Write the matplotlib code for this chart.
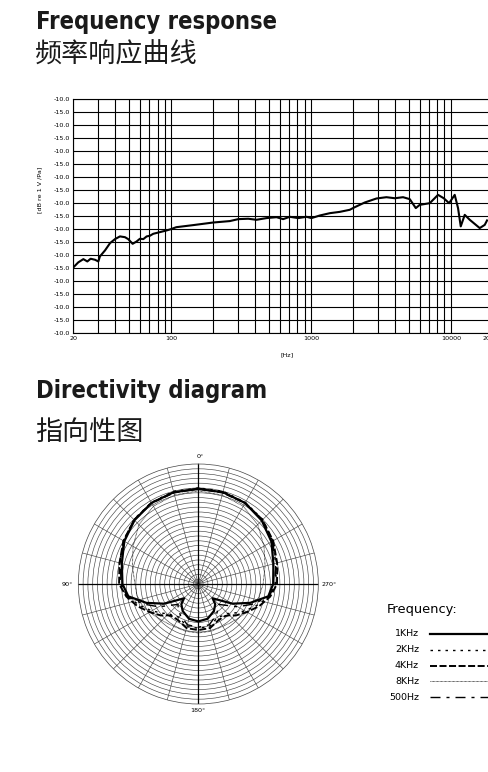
import numpy as np
import matplotlib
matplotlib.use("Agg")
import matplotlib.pyplot as plt
from matplotlib.ticker import FixedLocator, NullFormatter

# Curva de respuesta en frecuencia (nivel en filas de la rejilla, 0 = abajo)
freq_hz = [20, 21.7, 23.6, 25.2, 26.6, 28.6, 30.2, 31, 33.7, 36.6, 39.7, 43.1,
           46.8, 49.4, 53.1, 56.7, 59.9, 63.3, 66.9, 70.6, 74.5, 83.2, 92.9,
           99.8, 109, 144, 200, 263, 302, 356, 408, 481, 567, 632, 706, 810,
           929, 1007, 1156, 1365, 1607, 1893, 2055, 2421, 2937, 3461, 3973,
           4551, 5083, 5612, 5988, 7063, 8093, 8891, 9710, 10650, 11250,
           11760, 12560, 13640, 16080, 17460, 18130]
level = [5.05, 5.44, 5.69, 5.51, 5.72, 5.64, 5.51, 5.9, 6.36, 6.92, 7.23, 7.44,
         7.38, 7.23, 6.87, 7.05, 7.26, 7.23, 7.44, 7.49, 7.64, 7.77, 7.9,
         8.0, 8.15, 8.31, 8.51, 8.62, 8.77, 8.8, 8.72, 8.85, 8.92, 8.77, 8.95,
         8.85, 8.95, 8.85, 9.05, 9.23, 9.33, 9.49, 9.69, 10.05, 10.36, 10.46,
         10.38, 10.46, 10.31, 9.62, 9.87, 10.0, 10.64, 10.38, 10.0, 10.64,
         9.62, 8.21, 9.1, 8.72, 8.08, 8.33, 8.67]
y_labels = ["-10.0" if i % 2 == 0 else "-15.0" for i in range(19)]
x_ticks = [20, 100, 1000, 10000, 20000]
x_tick_labels = ["20", "100", "1000", "10000", "20000"]

# Diagrama polar (grados, dB)
angle_deg = [0, 15, 30, 45, 60, 75, 90, 100, 110, 120, 130, 135, 140, 150, 165, 180,
             195, 210, 220, 225, 230, 240, 250, 260, 270, 285, 300, 315, 330, 345, 360]
sens_1k = [-5.2, -5.2, -5.5, -6.2, -7.2, -8.5, -9.2, -10.2, -13.5, -16.8, -20.0, -20.8,
           -19.5, -18.5, -17.5, -17.2, -17.5, -18.5, -19.5, -20.8, -20.0, -16.8, -13.5,
           -10.2, -9.4, -8.8, -7.4, -6.3, -5.5, -5.2, -5.2]
sens_2k = [-5.0, -5.0, -5.4, -6.0, -7.0, -8.0, -8.8, -10.0, -12.0, -13.8, -15.5, -16.3,
           -16.5, -17.0, -15.8, -15.8, -15.8, -17.0, -16.5, -16.3, -15.5, -13.8, -12.0,
           -10.0, -8.9, -8.1, -7.1, -6.0, -5.4, -5.0, -5.0]
sens_4k = [-5.1, -5.3, -5.5, -6.1, -7.0, -8.0, -8.5, -9.8, -11.5, -13.3, -14.8, -15.8,
           -16.3, -16.4, -15.5, -15.4, -15.5, -16.4, -16.3, -15.8, -14.8, -13.3, -11.5,
           -9.8, -8.6, -8.0, -7.0, -6.1, -5.5, -5.3, -5.1]
sens_8k = [-5.6, -5.8, -6.3, -7.5, -9.3, -10.8, -11.8, -12.0, -12.5, -13.3, -14.0, -14.3,
           -14.5, -14.8, -14.8, -14.8, -14.8, -14.8, -14.5, -14.3, -14.0, -13.3, -12.5,
           -12.0, -11.5, -10.6, -9.2, -7.5, -6.3, -5.8, -5.6]
sens_500 = [-5.2, -5.2, -5.5, -6.2, -7.1, -8.2, -8.9, -10.0, -12.8, -15.5, -18.2, -19.0,
            -18.5, -17.5, -16.2, -16.0, -16.2, -17.5, -18.5, -19.0, -18.2, -15.5, -12.8,
            -10.0, -9.0, -8.3, -7.2, -6.2, -5.5, -5.2, -5.2]
series_names = ["1KHz", "2KHz", "4KHz", "8KHz", "500Hz"]
series_vals = [sens_1k, sens_2k, sens_4k, sens_8k, sens_500]
styles = [
    dict(lw=1.6, ls="-"),
    dict(lw=1.0, ls=(0, (1.8, 3.6))),
    dict(lw=1.4, ls=(0, (3.6, 1.3))),
    dict(lw=0.6, ls=(0, (0.8, 0.8))),
    dict(lw=1.0, ls=(0, (7.2, 4.3, 2.2, 4.3))),
]

W, H = 488, 772
fig = plt.figure(figsize=(W / 100, H / 100), dpi=100)

# capa de fondo en coordenadas de pixel para los textos
ov = fig.add_axes([0, 0, 1, 1], zorder=-1)
ov.set_xlim(0, W)
ov.set_ylim(H, 0)
ov.axis("off")

title_font = dict(family="DejaVu Sans", stretch="condensed", weight="bold", size=17)
cjk_font = dict(family=["Noto Sans CJK SC", "DejaVu Sans"], size=19.5)
ov.text(36, 29, "Frequency response", va="baseline", ha="left", color="#1a1a1a", **title_font)
ov.text(35, 55, "频率响应曲线", va="center", ha="left", color="#1a1a1a", **cjk_font)
ov.text(36, 398, "Directivity diagram", va="baseline", ha="left", color="#1a1a1a", **title_font)
ov.text(35, 432, "指向性图", va="center", ha="left", color="#1a1a1a", **cjk_font)

# --- respuesta en frecuencia ---
left, top, bottom, right = 73.3, 99.3, 333.0, 493.0
ax = fig.add_axes([left / W, 1 - bottom / H, (right - left) / W, (bottom - top) / H])
ax.plot(freq_hz, level, color="black", lw=1.5, zorder=3)
ax.set_xscale("log")
ax.set_xlim(20, 20000)
ax.set_ylim(0, 18)
ax.set_yticks(range(19))
ax.set_yticklabels(y_labels[::-1])
ax.xaxis.set_major_locator(FixedLocator(x_ticks))
ax.set_xticklabels(x_tick_labels)
minor = [m * d for d in (10, 100, 1000) for m in range(2, 10)]
minor = [v for v in minor if v > 20]
ax.xaxis.set_minor_locator(FixedLocator(minor))
ax.xaxis.set_minor_formatter(NullFormatter())
ax.grid(True, which="both", color="black", lw=0.8)
ax.tick_params(which="both", length=0, labelsize=4.6, pad=2)
for s in ax.spines.values():
    s.set_linewidth(0.8)
ov.text(40, 190, "[dB re 1 V /Pa]", rotation=90, ha="center", va="center", fontsize=4.6)
ov.text(287, 355, "[Hz]", ha="center", va="center", fontsize=4.6)

# --- diagrama polar ---
cx, cy, rad = 198.3, 584.0, 120.0
pax = fig.add_axes([(cx - rad) / W, 1 - (cy + rad) / H, 2 * rad / W, 2 * rad / H],
                   projection="polar")
pax.set_theta_zero_location("N")
pax.set_theta_direction(1)
pax.set_ylim(-25, 0)
pax.set_yticks(np.arange(-24, 0, 1))
pax.set_yticklabels([])
pax.set_xticks(np.deg2rad(np.arange(0, 360, 15)))
pax.set_xticklabels([])
pax.grid(True, color="#444444", lw=0.45)
pax.spines["polar"].set_color("#444444")
pax.spines["polar"].set_linewidth(0.5)
for a in (0, 90, 180, 270):
    pax.plot([np.deg2rad(a)] * 2, [-25, 0], color="black", lw=0.9, zorder=2)
th = np.deg2rad(angle_deg)
for vals, st in zip(series_vals, styles):
    pax.plot(th, vals, color="black", zorder=3, **st)

ov.text(200, 457, "0°", ha="center", va="center", fontsize=4.6)
ov.text(67, 584, "90°", ha="center", va="center", fontsize=4.6)
ov.text(329, 584, "270°", ha="center", va="center", fontsize=4.6)
ov.text(198, 711, "180°", ha="center", va="center", fontsize=4.6)

# --- leyenda ---
ov.text(387, 610, "Frequency:", ha="left", va="center", fontsize=9.4)
leg_y = [634, 650, 666, 681, 697]
for name, st, y in zip(series_names, styles, leg_y):
    ov.text(419, y, name, ha="right", va="center", fontsize=6.8)
    ov.plot([430, 495], [y, y], color="black", **st)

fig.savefig("out.png", dpi=100)
